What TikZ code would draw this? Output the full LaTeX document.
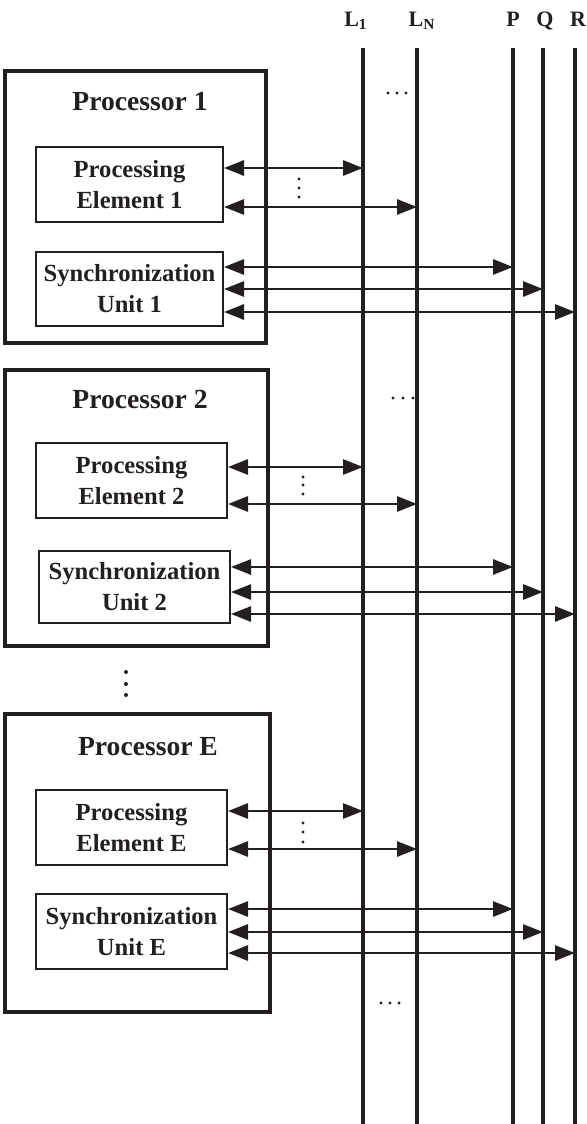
\documentclass[tikz,border=0pt]{standalone}
\usepackage{fontspec}
\setmainfont{Liberation Serif}
\usetikzlibrary{arrows.meta}
\definecolor{ink}{RGB}{35,31,32}

\begin{document}
\begin{tikzpicture}[x=0.5pt, y=-0.5pt, font=\bfseries, ink,
    bus/.style={line width=1.6pt},
    procbox/.style={draw, line width=2pt},
    unitbox/.style={draw, line width=1pt, align=center, font=\fontsize{12.3}{15.5}\selectfont\bfseries},
    title/.style={font=\fontsize{13.8}{16}\selectfont\bfseries},
    buslabel/.style={anchor=base, font=\fontsize{11}{13}\selectfont\bfseries},
    link/.style={line width=1.4pt, {Triangle[length=10pt,width=7.5pt]}-{Triangle[length=10pt,width=7.5pt]}}]

    \useasboundingbox (0,0) rectangle (587,1124);

    % Shared lines on the right
    \foreach \name/\x in {L1/363, LN/417, P/513, Q/543, R/575} {
        \coordinate (\name top) at (\x,48);
        \coordinate (\name bot) at (\x,1124);
        \draw[bus] (\name top) -- (\name bot);
    }
    \node[buslabel] (labL1) at (356,26) {L\textsubscript{1}};
    \node[buslabel] (labLN) at (422,26) {L\textsubscript{N}};
    \node[buslabel] (labP) at (513,26) {P};
    \node[buslabel] (labQ) at (545,26) {Q};
    \node[buslabel] (labR) at (578,26) {R};

    % Processor 1
    \node[procbox, minimum width=130.5pt, minimum height=136pt] (proc1) at (135.5,207) {};
    \node[title] (title1) at (140,102) {Processor 1};
    \node[unitbox, minimum width=93.5pt, minimum height=37.5pt] (pe1) at (129.5,184.5) {Processing\\Element 1};
    \node[unitbox, minimum width=93.5pt, minimum height=37pt] (su1) at (129.5,289) {Synchronization\\Unit 1};
    \draw[link] ([yshift=8.25pt]pe1.east) -- ([yshift=8.25pt]pe1.east -| L1top);
    \draw[link] ([yshift=-11.25pt]pe1.east) -- ([yshift=-11.25pt]pe1.east -| LNtop);
    \draw[link] ([yshift=11pt]su1.east) -- ([yshift=11pt]su1.east -| Ptop);
    \draw[link] (su1.east) -- (su1.east -| Qtop);
    \draw[link] ([yshift=-11.5pt]su1.east) -- ([yshift=-11.5pt]su1.east -| Rtop);

    % Processor 2
    \node[procbox, minimum width=131.5pt, minimum height=138pt] (proc2) at (136.5,508) {};
    \node[title] (title2) at (140,399) {Processor 2};
    \node[unitbox, minimum width=95.5pt, minimum height=37.5pt] (pe2) at (131.5,480.5) {Processing\\Element 2};
    \node[unitbox, minimum width=95.5pt, minimum height=36pt] (su2) at (134.5,587) {Synchronization\\Unit 2};
    \draw[link] ([yshift=6.75pt]pe2.east) -- ([yshift=6.75pt]pe2.east -| L1top);
    \draw[link] ([yshift=-11.75pt]pe2.east) -- ([yshift=-11.75pt]pe2.east -| LNtop);
    \draw[link] ([yshift=10pt]su2.east) -- ([yshift=10pt]su2.east -| Ptop);
    \draw[link] ([yshift=-2.5pt]su2.east) -- ([yshift=-2.5pt]su2.east -| Qtop);
    \draw[link] ([yshift=-13.5pt]su2.east) -- ([yshift=-13.5pt]su2.east -| Rtop);

    % Processor E
    \node[procbox, minimum width=132.5pt, minimum height=149pt] (procE) at (137.5,863) {};
    \node[title] (titleE) at (148,747) {Processor E};
    \node[unitbox, minimum width=95.5pt, minimum height=37.5pt] (peE) at (131.5,827.5) {Processing\\Element E};
    \node[unitbox, minimum width=95.5pt, minimum height=37.5pt] (suE) at (131.5,931.5) {Synchronization\\Unit E};
    \draw[link] ([yshift=8.25pt]peE.east) -- ([yshift=8.25pt]peE.east -| L1top);
    \draw[link] ([yshift=-10.75pt]peE.east) -- ([yshift=-10.75pt]peE.east -| LNtop);
    \draw[link] ([yshift=11.25pt]suE.east) -- ([yshift=11.25pt]suE.east -| Ptop);
    \draw[link] ([yshift=-0.25pt]suE.east) -- ([yshift=-0.25pt]suE.east -| Qtop);
    \draw[link] ([yshift=-10.75pt]suE.east) -- ([yshift=-10.75pt]suE.east -| Rtop);

    % ellipsis dots
    \foreach \x/\y in {388/93, 397/93, 406/93, 393/398, 403/398, 413/398, 381/1003, 390/1003, 399/1003,
                       299/179, 299/188, 299/197, 303/477, 303/485, 303/494, 303/823, 303/832, 303/842}
        \fill (\x,\y) circle (0.8pt);
    \foreach \y in {672, 684, 695}
        \fill (126,\y) circle (1pt);
\end{tikzpicture}
\end{document}
